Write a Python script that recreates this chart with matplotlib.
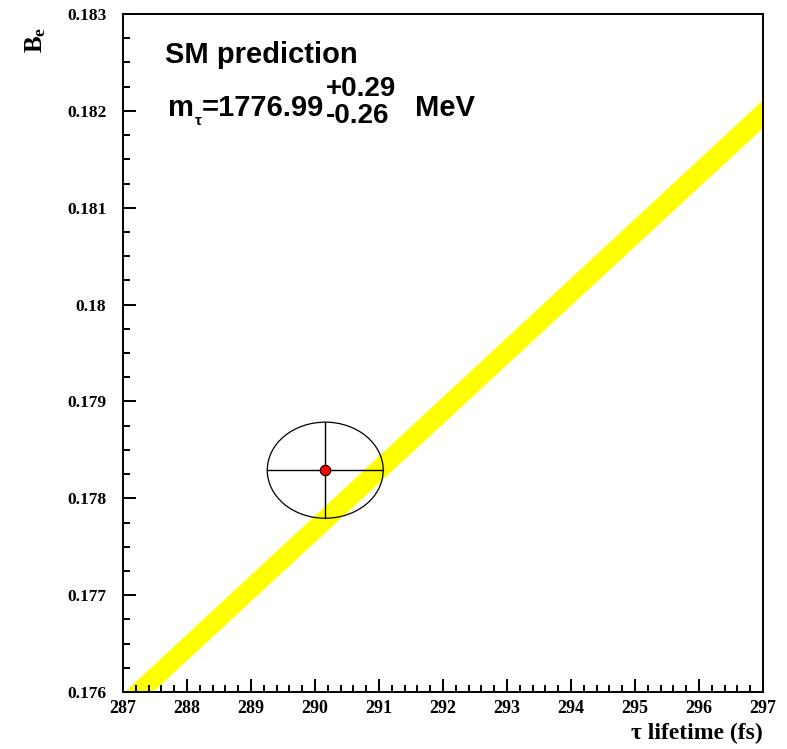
import numpy as np
import matplotlib
matplotlib.use('Agg')
from matplotlib import pyplot as plt
from matplotlib.patches import Ellipse
from matplotlib.ticker import MultipleLocator, FuncFormatter

plt.rcParams['mathtext.fontset'] = 'custom'
plt.rcParams['mathtext.rm'] = 'Liberation Serif:bold'
plt.rcParams['mathtext.bf'] = 'Liberation Serif:bold'
plt.rcParams['mathtext.it'] = 'Liberation Serif:bold'

# ----------------------------------
# SM prediction band (edges: tau lifetime [fs] vs B_e)
band_upper_tau = [287.03, 297.0]
band_upper_be = [0.1760, 0.18211]
band_lower_tau = [287.47, 297.0]
band_lower_be = [0.1760, 0.18182]

# measurement
meas_tau = 290.16
meas_tau_err = 0.906
meas_be = 0.17829
meas_be_err = 0.000496

x_ticks = list(range(287, 298))
y_ticks = [0.176, 0.177, 0.178, 0.179, 0.18, 0.181, 0.182, 0.183]

sans = dict(family='Liberation Sans', weight='bold')
serif = dict(family='Liberation Serif', weight='bold')

fig = plt.figure(figsize=(7.87, 7.49), dpi=100)
ax = fig.add_axes([0.1563, 0.0761, 0.8132, 0.9052])

# band polygon
poly_x = band_upper_tau + band_lower_tau[::-1]
poly_y = band_upper_be + band_lower_be[::-1]
ax.fill(poly_x, poly_y, color='#ffff00', lw=0, zorder=1)

# error ellipse with cross
ell = Ellipse((meas_tau, meas_be), 2 * meas_tau_err, 2 * meas_be_err,
              fill=False, ec='black', lw=0.9, zorder=3)
ax.add_patch(ell)
ax.plot([meas_tau - meas_tau_err, meas_tau + meas_tau_err], [meas_be, meas_be],
        color='black', lw=1.0, zorder=3)
ax.plot([meas_tau, meas_tau], [meas_be - meas_be_err, meas_be + meas_be_err],
        color='black', lw=1.0, zorder=3)
ax.plot([meas_tau], [meas_be], 'o', ms=7.5, mfc='red', mec='black', mew=0.8, zorder=4)

ax.set_xlim(287, 297)
ax.set_ylim(0.176, 0.183)
ax.set_xticks(x_ticks)
ax.set_yticks(y_ticks)
ax.xaxis.set_minor_locator(MultipleLocator(0.2))
ax.yaxis.set_minor_locator(MultipleLocator(0.00025))
ax.yaxis.set_major_formatter(FuncFormatter(lambda v, p: '%g' % round(v, 4)))

for sp in ax.spines.values():
    sp.set_linewidth(1.4)
ax.tick_params(which='both', direction='in', top=False, right=False, width=1.4)
ax.tick_params(which='major', length=9.5)
ax.tick_params(which='minor', length=5)
ax.tick_params(axis='x', which='major', pad=6)
ax.tick_params(axis='y', which='major', pad=12)
for lab in ax.get_xticklabels() + ax.get_yticklabels():
    lab.set_fontfamily('Liberation Serif')
    lab.set_fontweight('bold')
for lab in ax.get_xticklabels():
    lab.set_fontsize(13)
for lab in ax.get_yticklabels():
    lab.set_fontsize(12.5)

# text
fs = 21
ax.text(0.066, 0.9277, 'SM prediction', transform=ax.transAxes, fontsize=fs,
        va='baseline', **sans)
t_m = ax.text(0.0703, 0.8496, 'm', transform=ax.transAxes, fontsize=fs,
              va='baseline', **sans)
t_tau = ax.annotate('τ', xy=(1, 0), xycoords=t_m, xytext=(0.5, -4),
                    textcoords='offset points', fontsize=11, va='bottom', **sans)
t_eq = ax.annotate('=1776.99', xy=(1, 0), xycoords=(t_tau, t_m), xytext=(0.5, 0),
                   textcoords='offset points', fontsize=fs, va='bottom', **sans)
# stacked asymmetric errors as one two-line text
t_err = ax.annotate('+0.29\n-0.26', xy=(1, 0), xycoords=t_eq, xytext=(1, 14),
                    textcoords='offset points', fontsize=20, va='center',
                    ha='left', linespacing=1.05, **sans)
ax.annotate('MeV', xy=(1, 0), xycoords=(t_err, t_m), xytext=(14, 0),
            textcoords='offset points', fontsize=fs, va='bottom', **sans)

fig.text(0.9695, 0.013, 'τ lifetime (fs)', ha='right', va='baseline',
         fontsize=17, **serif)
fig.text(0.045, 0.947, r'B$_{\mathrm{e}}$', rotation=90, ha='center', va='center',
         fontsize=18, **serif)

fig.savefig('out.png', dpi=100)
